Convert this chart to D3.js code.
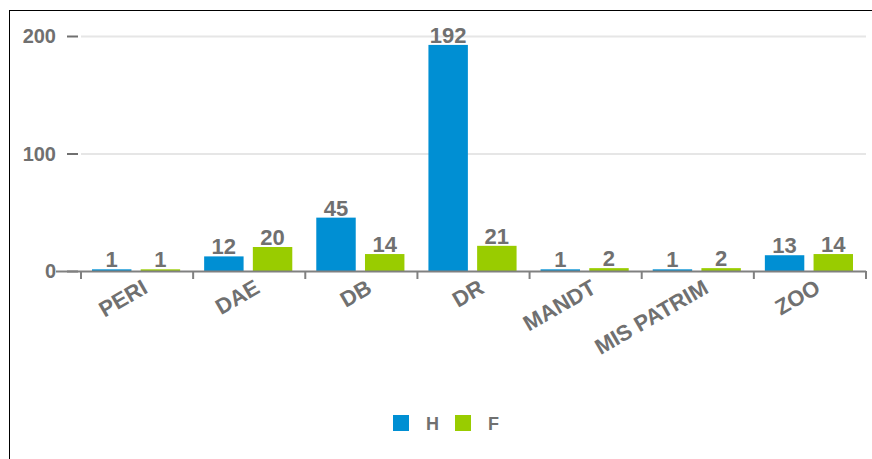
<!DOCTYPE html>
<html>
<head>
<meta charset="utf-8">
<style>
  body { margin: 0; background: #fff; }
  text { font-family: "Liberation Sans", Arial, sans-serif; font-weight: bold; fill: #707070; }
</style>
</head>
<body>
<svg width="872" height="459"></svg>
<script src="https://d3js.org/d3.v7.min.js"></script>
<script>
  const categories = ["PERI", "DAE", "DB", "DR", "MANDT", "MIS PATRIM", "ZOO"];
  const seriesNames = ["H", "F"];
  const hValues = [1, 12, 45, 192, 1, 1, 13];
  const fValues = [1, 20, 14, 21, 2, 2, 14];
  const yTicks = [0, 100, 200];
  const colors = ["#008fd3", "#99cc00"];

  const svg = d3.select("svg");
  const width = 872, height = 459;

  // frame (top and left border only visible)
  svg.append("line").attr("x1", 9).attr("x2", width).attr("y1", 10.5).attr("y2", 10.5)
    .attr("stroke", "#000").attr("stroke-width", 1);
  svg.append("line").attr("x1", 9.5).attr("x2", 9.5).attr("y1", 10).attr("y2", height)
    .attr("stroke", "#000").attr("stroke-width", 1);

  const x = d3.scaleBand().domain(categories).range([81, 866]);
  const y = d3.scaleLinear().domain([0, 200]).range([271, 36]);
  const xSub = d3.scaleBand().domain(seriesNames).range([11, x.bandwidth() - 13]).paddingInner(0.19);

  // gridlines
  svg.append("g").selectAll("line").data(yTicks.filter(d => d > 0)).join("line")
    .attr("x1", 81).attr("x2", 866)
    .attr("y1", d => y(d) + 0.5).attr("y2", d => y(d) + 0.5)
    .attr("stroke", "#e6e6e6").attr("stroke-width", 2);

  // y axis ticks + labels
  const yAxis = svg.append("g");
  yAxis.selectAll("line").data(yTicks).join("line")
    .attr("x1", 67).attr("x2", 78)
    .attr("y1", d => y(d) + 0.5).attr("y2", d => y(d) + 0.5)
    .attr("stroke", "#707070").attr("stroke-width", 2);
  yAxis.selectAll("text").data(yTicks).join("text")
    .attr("x", 56).attr("y", d => y(d) + 7)
    .attr("text-anchor", "end").style("font-size", "20px")
    .text(d => d);

  const data = categories.map((c, i) => ({ cat: c, vals: [hValues[i], fValues[i]] }));

  const groups = svg.append("g").selectAll("g").data(data).join("g")
    .attr("transform", d => `translate(${x(d.cat)},0)`);

  groups.selectAll("rect").data(d => d.vals.map((v, i) => ({ s: seriesNames[i], v, i }))).join("rect")
    .attr("x", d => xSub(d.s))
    .attr("width", xSub.bandwidth())
    .attr("y", d => y(d.v) - 0.5)
    .attr("height", d => y(0) - y(d.v) + 0.5)
    .attr("fill", d => colors[d.i]);

  groups.selectAll("text.val").data(d => d.vals.map((v, i) => ({ s: seriesNames[i], v, i }))).join("text")
    .attr("class", "val")
    .attr("x", d => xSub(d.s) + xSub.bandwidth() / 2)
    .attr("y", d => y(d.v) - 2.5)
    .attr("text-anchor", "middle").style("font-size", "22px")
    .text(d => d.v);

  // x axis line and ticks
  svg.append("line").attr("x1", 56).attr("x2", 866).attr("y1", 271.5).attr("y2", 271.5)
    .attr("stroke", "#808080").attr("stroke-width", 2);
  const tickPos = categories.map(c => x(c)).concat([x.range()[1]]);
  svg.append("g").selectAll("line").data(tickPos).join("line")
    .attr("x1", d => d).attr("x2", d => d)
    .attr("y1", 271).attr("y2", 279)
    .attr("stroke", "#808080").attr("stroke-width", 2);

  // x labels rotated
  svg.append("g").selectAll("text").data(categories).join("text")
    .attr("transform", d => `translate(${x(d) + x.bandwidth() / 2 + 12},${292}) rotate(-30)`)
    .attr("text-anchor", "end").style("font-size", "22px")
    .text(d => d);

  // legend
  const legend = svg.append("g");
  const legendX = [393, 455];
  seriesNames.forEach((s, i) => {
    legend.append("rect").attr("x", legendX[i]).attr("y", 415).attr("width", 16).attr("height", 16)
      .attr("fill", colors[i]);
    legend.append("text").attr("x", legendX[i] + 33).attr("y", 430)
      .style("font-size", "18px").text(s);
  });
</script>
</body>
</html>
